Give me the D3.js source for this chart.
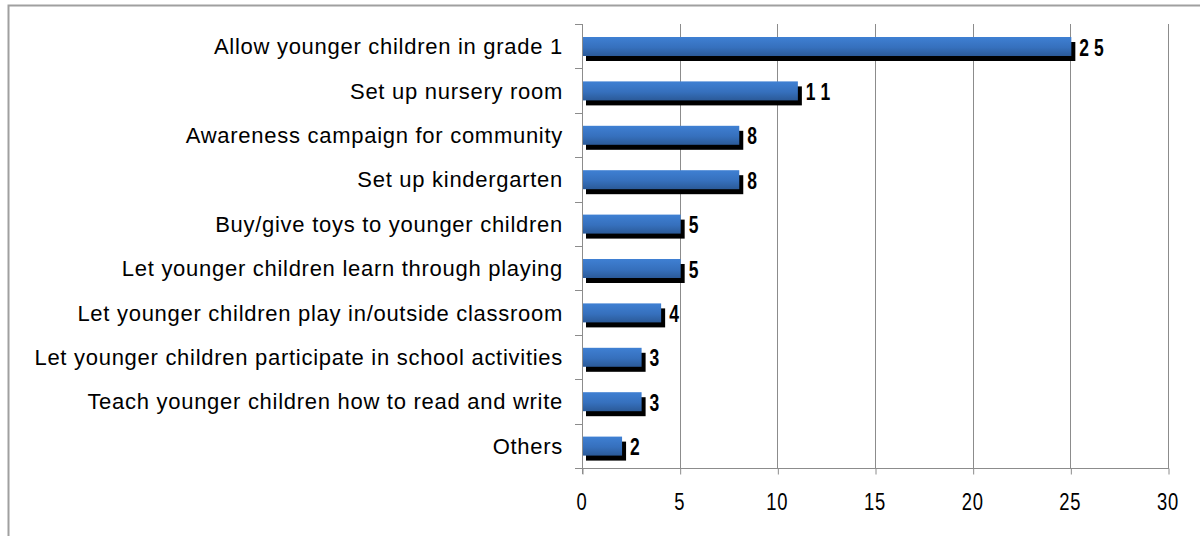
<!DOCTYPE html>
<html><head><meta charset="utf-8">
<script src="https://cdn.jsdelivr.net/npm/d3@7"></script>
<style>body{margin:0;background:#fff;} svg{display:block;}</style>
</head><body>
<svg id="c" width="1200" height="536"></svg>
<script>
const categories = [
  "Allow younger children in grade 1",
  "Set up nursery room",
  "Awareness campaign for community ",
  "Set up kindergarten",
  "Buy/give toys to younger children",
  "Let younger children learn through playing",
  "Let younger children play in/outside classroom",
  "Let younger children participate in school activities",
  "Teach younger children how to read and write",
  "Others"
];
const values = [25, 11, 8, 8, 5, 5, 4, 3, 3, 2];
const valueLabels = ["2 5", "1 1", "8", "8", "5", "5", "4", "3", "3", "2"];
const xTicks = [0, 5, 10, 15, 20, 25, 30];

const svg = d3.select("#c");
const L = 582, R = 1168, T = 24, B = 468;

svg.append("rect").attr("x", 8.5).attr("y", 5.5).attr("width", 1200).attr("height", 540)
  .attr("fill", "none").attr("stroke", "#a0a0a0").attr("stroke-width", 2);

const defs = svg.append("defs");
const g = defs.append("linearGradient").attr("id", "bg").attr("x1", 0).attr("y1", 0).attr("x2", 0).attr("y2", 1);
g.append("stop").attr("offset", "0%").attr("stop-color", "#3f80d3");
g.append("stop").attr("offset", "55%").attr("stop-color", "#3670bd");
g.append("stop").attr("offset", "100%").attr("stop-color", "#2b5a98");

const x = d3.scaleLinear().domain([0, 30]).range([L, R]);
const y = d3.scaleBand().domain(categories).range([T, B]);

// gridlines
svg.append("g").selectAll("line").data(xTicks.slice(1)).join("line")
  .attr("x1", d => Math.round(x(d)) + 0.5).attr("x2", d => Math.round(x(d)) + 0.5)
  .attr("y1", T).attr("y2", B).attr("stroke", "#8c8c8c").attr("stroke-width", 1);

// x axis
const xAxis = svg.append("g").attr("transform", `translate(0,${B + 0.5})`)
  .call(d3.axisBottom(x).tickValues(xTicks).tickSize(6).tickFormat(""));
xAxis.select(".domain").remove();
xAxis.selectAll(".tick line").attr("stroke", "#8c8c8c").attr("transform", "translate(0.5,0)");
svg.append("g").selectAll("text").data(xTicks).join("text")
  .attr("transform", d => `translate(${x(d)},510) scale(0.8,1)`)
  .attr("text-anchor", "middle")
  .attr("font-family", "Liberation Sans, Arial, sans-serif")
  .attr("font-size", 23).attr("fill", "#000").attr("letter-spacing", 1).text(d => d);
svg.append("line").attr("x1", 575).attr("x2", R + 1).attr("y1", B + 0.5).attr("y2", B + 0.5)
  .attr("stroke", "#8c8c8c");

// y axis
svg.append("line").attr("x1", L + 0.5).attr("x2", L + 0.5).attr("y1", T).attr("y2", B + 6)
  .attr("stroke", "#8c8c8c");
const yb = categories.map((c, i) => y(c));
svg.append("g").selectAll("line").data(yb).join("line")
  .attr("x1", 575).attr("x2", L).attr("y1", d => Math.round(d) + 0.5).attr("y2", d => Math.round(d) + 0.5)
  .attr("stroke", "#8c8c8c");

// category labels
svg.append("g").selectAll("text").data(categories).join("text")
  .attr("x", 563).attr("y", d => y(d) + y.bandwidth() / 2 + 8)
  .attr("text-anchor", "end")
  .attr("font-family", "Liberation Sans, Arial, sans-serif").attr("font-size", 22)
  .attr("letter-spacing", 0.72)
  .attr("fill", "#000").text(d => d);

const barH = 19, off = 13;
// shadows
svg.append("g").selectAll("rect").data(values).join("rect")
  .attr("x", x(0) + 4).attr("y", (d, i) => y(categories[i]) + off + 5)
  .attr("width", d => x(d) - x(0) + 1).attr("height", barH).attr("fill", "#000");
// bars
svg.append("g").selectAll("rect").data(values).join("rect")
  .attr("x", x(0) + 1).attr("y", (d, i) => y(categories[i]) + off)
  .attr("width", d => x(d) - x(0)).attr("height", barH).attr("fill", "url(#bg)");

// value labels
svg.append("g").selectAll("text").data(values).join("text")
  .attr("transform", (d, i) => `translate(${x(d) + 9},${y(categories[i]) + off + barH / 2 + 9}) scale(0.76,1)`)
  .attr("font-family", "Liberation Sans, Arial, sans-serif").attr("font-weight", "bold")
  .attr("font-size", 23).attr("fill", "#000").text((d, i) => valueLabels[i]);
</script>
</body></html>
